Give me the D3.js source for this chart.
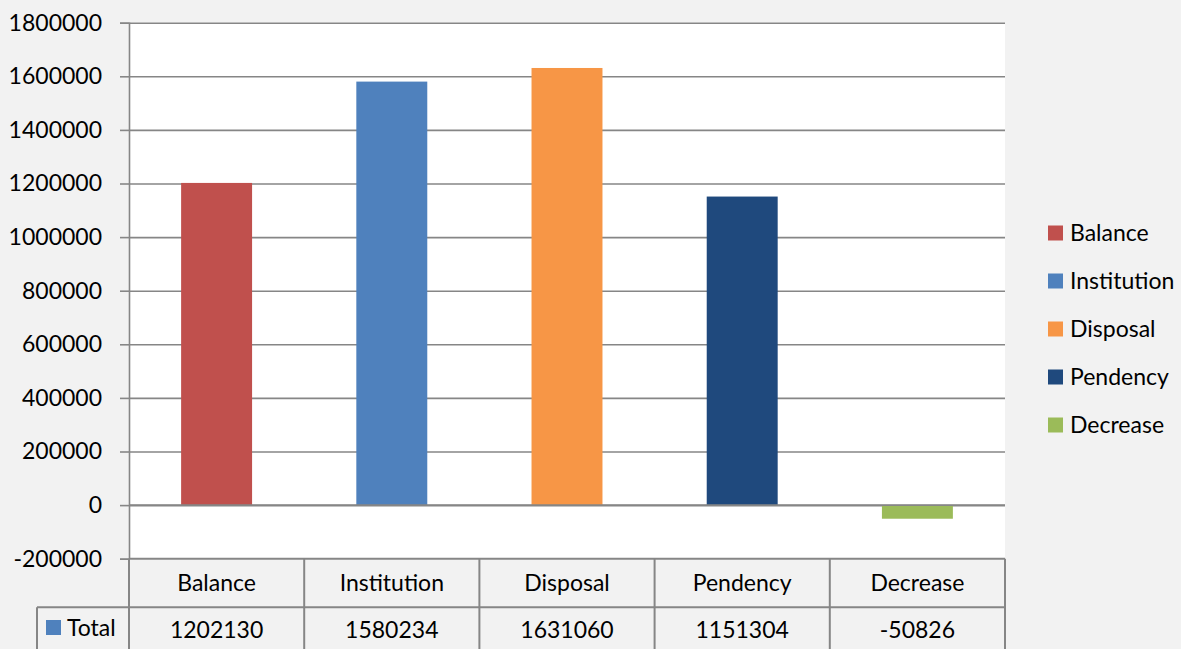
<!DOCTYPE html>
<html>
<head>
<meta charset="utf-8">
<script src="https://cdn.jsdelivr.net/npm/d3@7"></script>
<style>
  html, body { margin: 0; padding: 0; background: #f2f2f2; }
  svg { display: block; }
  text { font-family: Lato, "Open Sans", sans-serif; fill: #000; }
</style>
</head>
<body>
<script>
// Case statistics, single "Total" series
const categories = ["Balance", "Institution", "Disposal", "Pendency", "Decrease"];
const totals = [1202130, 1580234, 1631060, 1151304, -50826];
const colors = ["#C0504D", "#4F81BD", "#F79646", "#1F497D", "#9BBB59"];
const yTicks = [-200000, 0, 200000, 400000, 600000, 800000, 1000000, 1200000, 1400000, 1600000, 1800000];
const seriesName = "Total";
const seriesColor = "#4F81BD";

const W = 1181, H = 649;
const plot = { left: 129, right: 1005, top: 22.7, bottom: 558.7 };
const rowSplit = 607.3;      // line between category row and value row
const keyCellLeft = 37;      // left edge of the series-name cell
const fontSize = 23;
const lineColor = "#868686";

const svg = d3.select("body").append("svg")
  .attr("width", W).attr("height", H);

svg.append("rect").attr("width", W).attr("height", H).attr("fill", "#f2f2f2");

const y = d3.scaleLinear()
  .domain([d3.min(yTicks), d3.max(yTicks)])
  .range([plot.bottom, plot.top]);

const x = d3.scaleBand()
  .domain(categories)
  .range([plot.left, plot.right])
  .paddingInner(0.595)
  .paddingOuter(0.2975);

const cols = d3.scaleBand()
  .domain(categories)
  .range([plot.left, plot.right])
  .padding(0);

// plot area
svg.append("rect")
  .attr("x", plot.left).attr("y", plot.top)
  .attr("width", plot.right - plot.left)
  .attr("height", plot.bottom - plot.top)
  .attr("fill", "#fff");

// horizontal gridlines
const grid = svg.append("g")
  .attr("transform", `translate(${plot.left},0)`)
  .call(d3.axisLeft(y).tickValues(yTicks).tickSize(-(plot.right - plot.left)).tickFormat(""));
grid.select(".domain").remove();
grid.selectAll("line").attr("stroke", lineColor).attr("stroke-width", 1.6);

// bars
svg.append("g").selectAll("rect")
  .data(categories)
  .join("rect")
  .attr("x", d => x(d))
  .attr("width", x.bandwidth())
  .attr("y", (d, i) => y(Math.max(0, totals[i])))
  .attr("height", (d, i) => Math.abs(y(totals[i]) - y(0)))
  .attr("fill", (d, i) => colors[i]);

// zero line drawn over bars
svg.append("line")
  .attr("x1", plot.left).attr("x2", plot.right)
  .attr("y1", y(0)).attr("y2", y(0))
  .attr("stroke", lineColor).attr("stroke-width", 1.6);

// y axis
const yAxis = svg.append("g")
  .attr("transform", `translate(${plot.left},0)`)
  .call(d3.axisLeft(y).tickValues(yTicks).tickSize(9).tickPadding(18).tickFormat(d => String(d)));
yAxis.select(".domain").attr("stroke", lineColor).attr("stroke-width", 1.6);
yAxis.selectAll("line").attr("stroke", lineColor).attr("stroke-width", 1.6);
yAxis.selectAll("text")
  .style("font-family", 'Lato, "Open Sans", sans-serif')
  .attr("font-size", fontSize).attr("fill", "#000");

// data table
const table = svg.append("g");
const tableBottom = H + 4;

table.append("rect")
  .attr("x", plot.left).attr("y", plot.bottom)
  .attr("width", plot.right - plot.left)
  .attr("height", tableBottom - plot.bottom)
  .attr("fill", "#f2f2f2");

const borders = [
  [plot.left, plot.bottom, plot.right, plot.bottom],
  [keyCellLeft, rowSplit, plot.right, rowSplit],
  [keyCellLeft, rowSplit, keyCellLeft, tableBottom],
  [plot.left, plot.bottom, plot.left, tableBottom]
];
categories.forEach(c => {
  const xr = cols(c) + cols.bandwidth();
  borders.push([xr, plot.bottom, xr, tableBottom]);
});
table.selectAll("line")
  .data(borders)
  .join("line")
  .attr("x1", d => d[0]).attr("y1", d => d[1])
  .attr("x2", d => d[2]).attr("y2", d => d[3])
  .attr("stroke", lineColor).attr("stroke-width", 2);

table.selectAll("text.cat")
  .data(categories)
  .join("text")
  .attr("class", "cat")
  .attr("x", d => cols(d) + cols.bandwidth() / 2)
  .attr("y", (plot.bottom + rowSplit) / 2)
  .attr("dy", "0.35em")
  .attr("text-anchor", "middle")
  .attr("font-size", fontSize)
  .text(d => d);

table.selectAll("text.val")
  .data(categories)
  .join("text")
  .attr("class", "val")
  .attr("x", d => cols(d) + cols.bandwidth() / 2)
  .attr("y", 630)
  .attr("dy", "0.35em")
  .attr("text-anchor", "middle")
  .attr("font-size", fontSize)
  .text((d, i) => String(totals[i]));

table.append("rect")
  .attr("x", 46).attr("y", 620).attr("width", 15).attr("height", 15)
  .attr("fill", seriesColor);
table.append("text")
  .attr("x", 67).attr("y", 628)
  .attr("dy", "0.35em")
  .attr("font-size", fontSize)
  .text(seriesName);

// legend
const legend = svg.append("g").attr("transform", "translate(1048,233)");
const items = legend.selectAll("g")
  .data(categories)
  .join("g")
  .attr("transform", (d, i) => `translate(0,${i * 48})`);
items.append("rect")
  .attr("x", 0).attr("y", -7.5).attr("width", 15).attr("height", 15)
  .attr("fill", (d, i) => colors[i]);
items.append("text")
  .attr("x", 22).attr("y", 0).attr("dy", "0.35em")
  .attr("font-size", fontSize)
  .text(d => d);
</script>
</body>
</html>
